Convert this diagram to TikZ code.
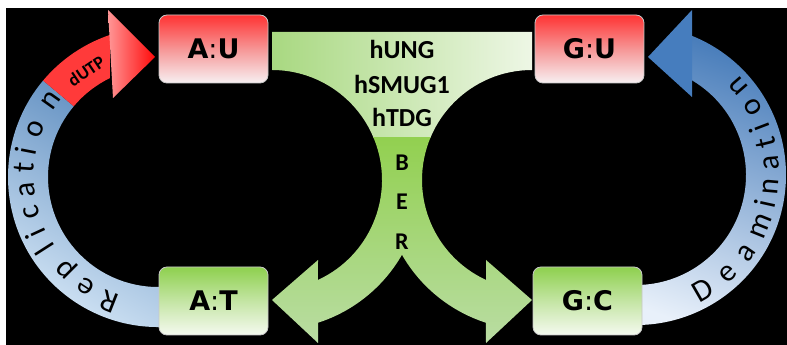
\documentclass[tikz,border=0pt]{standalone}
\usepackage{fontspec}
\newfontfamily\calfont{Carlito}
\newfontfamily\boxfont{DejaVu Sans}
\definecolor{redtop}{RGB}{255,51,51}
\definecolor{redmid}{RGB}{246,150,150}
\definecolor{redbot}{RGB}{247,240,242}
\definecolor{greentop}{RGB}{142,208,78}
\definecolor{greenmid}{RGB}{196,229,164}
\definecolor{greenbot}{RGB}{245,250,240}
\definecolor{barL}{RGB}{168,216,128}
\definecolor{barR}{RGB}{238,247,230}
\definecolor{neckG}{RGB}{146,208,80}
\definecolor{armG}{RGB}{186,221,164}
\definecolor{repDark}{RGB}{90,138,190}
\definecolor{repLight}{RGB}{215,232,247}
\definecolor{redband}{RGB}{255,58,58}
\definecolor{redArrowL}{RGB}{255,150,150}
\definecolor{redArrowR}{RGB}{255,10,10}
\definecolor{deamDark}{RGB}{74,126,187}
\definecolor{deamLight}{RGB}{232,240,250}
\definecolor{deamArrow}{RGB}{70,125,190}
\definecolor{boxline}{RGB}{200,200,200}
\newcommand\boxlbl[2]{\textbf{#1}:\textbf{#2}}
\tikzset{
  basebox/.style={rounded corners=8pt, minimum width=109pt, minimum height=68pt,
    inner sep=0pt, draw=boxline, line width=0.8pt,
    font=\boxfont\fontsize{27}{30}\selectfont},
  redbox/.style={basebox, top color=redtop, bottom color=redbot, middle color=redmid},
  greenbox/.style={basebox, top color=greentop, bottom color=greenbot, middle color=greenmid},
  centretext/.style={anchor=base, inner sep=0pt, font=\calfont\bfseries\fontsize{26}{30}\selectfont},
  bertext/.style={anchor=base, inner sep=0pt, font=\calfont\bfseries\fontsize{24}{28}\selectfont},
  arcletter/.style={anchor=base, inner sep=0pt, font=\calfont\fontsize{31}{34}\selectfont},
  utptext/.style={anchor=base, inner sep=0pt, font=\calfont\bfseries\fontsize{18}{20}\selectfont},
}
\begin{document}
\begin{tikzpicture}[x=1pt,y=1pt]
\useasboundingbox (0,0) rectangle (787,345);
\fill[white] (0,0) rectangle (787,345);
\fill[black] (6,0) rectangle (787,337);

% central BER shape
\begin{scope}
\clip (272,313) -- (532,313) -- (532,275)
  arc[start angle=90,end angle=245.3,radius=110pt]
  -- (486,85) -- (532,45) -- (486,2) -- ([shift={(532,165)}]252.1:150)
  arc[start angle=252.1,end angle=209.9,radius=150pt]
  arc[start angle=330.1,end angle=287.9,radius=150pt]
  -- (318,2) -- (272,45) -- (318,85) -- ([shift={(272,165)}]294.7:110)
  arc[start angle=294.7,end angle=450,radius=110pt] -- cycle;
\shade[left color=barL, right color=barR] (270,207) rectangle (534,315);
\shade[top color=neckG, bottom color=armG] (260,0) rectangle (545,207);
\end{scope}

% Replication band
\shade[top color=repDark, bottom color=repLight, shading angle=-30]
  ([shift={(158,168)}]280:150) arc[start angle=280,end angle=140,radius=150pt]
  -- ([shift={(158,168)}]140:110) arc[start angle=140,end angle=280,radius=110pt] -- cycle;
\fill[redband]
  ([shift={(158,168)}]140:150) arc[start angle=140,end angle=108.7,radius=150pt]
  -- ([shift={(158,168)}]115.9:110) arc[start angle=115.9,end angle=140,radius=110pt] -- cycle;
\shade[left color=redArrowL, right color=redArrowR] (108,335) -- (155,288) -- (113,247) -- cycle;

% Deamination band
\shade[top color=deamDark, bottom color=deamLight, shading angle=-20]
  ([shift={(636,170)}]-100:150) arc[start angle=-100,end angle=68,radius=150pt]
  -- ([shift={(636,170)}]59.4:110) arc[start angle=59.4,end angle=-100,radius=110pt] -- cycle;
\fill[deamArrow] (692,335) -- (648,288) -- (692,248) -- cycle;

% letters along arcs
\foreach \a/\ch [count=\i] in {248.5/R,236.7/e,225/p,212.6/l,204.8/i,195.7/c,185.7/a,176/t,169/i,158.6/o,144.5/n}
  \node[arcletter, rotate=\a-90] (rep\i) at ([shift={(158,168)}]\a:124) {\ch};
\foreach \a/\ch [count=\i] in {-60/D,-47/e,-35/a,-22/m,-12.5/i,-5/n,5/a,14/t,21/i,30/o,41/n}
  \node[arcletter, rotate=\a+90] (dea\i) at ([shift={(636,170)}]\a:143) {\ch};
\node[utptext, rotate=34] (utp) at ([shift={(158,168)}]124:122) {dUTP};

% central texts
\node[centretext] (hung) at (402,286.6) {hUNG};
\node[centretext] (hsmug) at (402,251.6) {hSMUG1};
\node[centretext] (htdg) at (402,218.6) {hTDG};
\node[bertext] (berB) at (402,174.5) {B};
\node[bertext] (berE) at (402,135.2) {E};
\node[bertext] (berR) at (402,95.2) {R};

% boxes
\node[redbox] (AU) at (213.5,296) {\boxlbl{A}{U}};
\node[redbox] (GU) at (589.5,296) {\boxlbl{G}{U}};
\node[greenbox] (AT) at (213.5,44) {\boxlbl{A}{T}};
\node[greenbox] (GC) at (587.5,44) {\boxlbl{G}{C}};
\end{tikzpicture}
\end{document}
